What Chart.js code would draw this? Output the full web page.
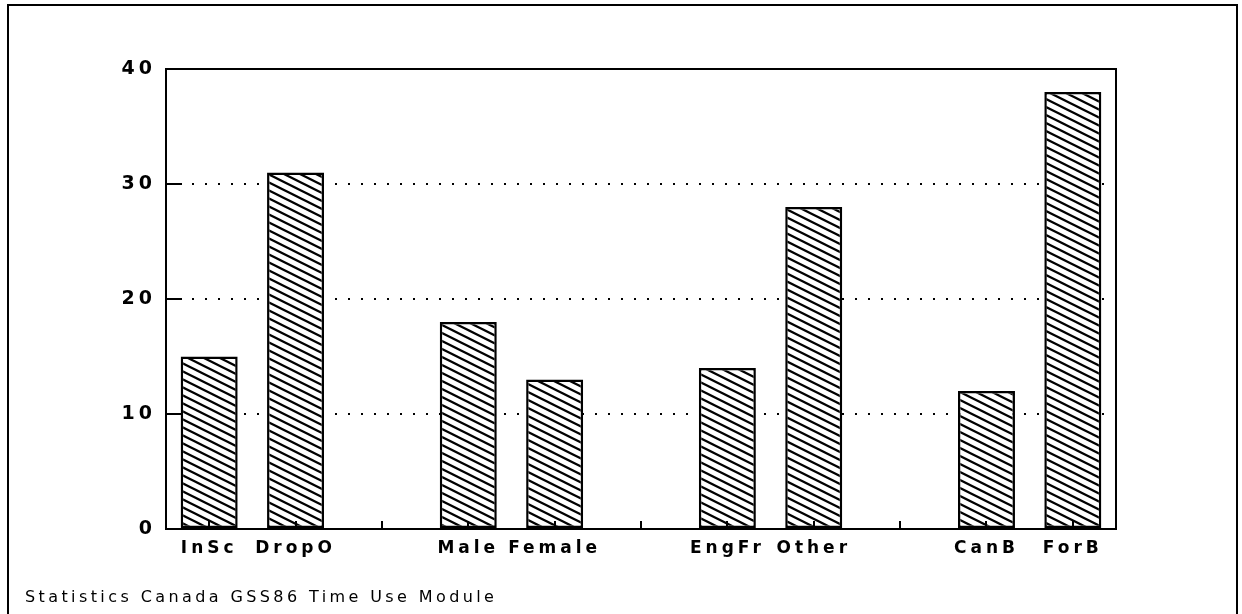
<!DOCTYPE html>
<html>
<head>
<meta charset="utf-8">
<script src="https://cdn.jsdelivr.net/npm/chart.js@4.4.1/dist/chart.umd.min.js"></script>
<style>
  body { margin: 0; background: #fff; }
  #wrap { position: relative; width: 1242px; height: 614px; overflow: hidden; }
  #frame {
    position: absolute; left: 7px; top: 4px; width: 1227px; height: 640px;
    border: 2px solid #000; border-bottom: none;
  }
  #note {
    position: absolute; left: 25px; top: 588px;
    font: 16px "DejaVu Sans", sans-serif; line-height: 18px;
    letter-spacing: 3.4px; color: #000; white-space: nowrap;
  }
  canvas { position: absolute; left: 0; top: 0; }
</style>
</head>
<body>
<div id="wrap">
  <div id="frame"></div>
  <canvas id="gssChart" width="1242" height="614"></canvas>
  <div id="note">Statistics Canada GSS86 Time Use Module</div>
</div>
<script>

// ==========================
// Data
// ==========================

const categories = ["InSc", "DropO", "", "Male", "Female", "", "EngFr", "Other", "", "CanB", "ForB"];

const values = [15, 31, null, 18, 13, null, 14, 28, null, 12, 38];

const yTicks = [0, 10, 20, 30, 40];

const gridLines = [10, 20, 30];

// ==========================
// Hatch pattern
// ==========================

function hatch(){

    const c = document.createElement("canvas");
    c.width = 16;
    c.height = 8;
    const g = c.getContext("2d");

    g.fillStyle = "#fff";
    g.fillRect(0, 0, 16, 8);

    g.strokeStyle = "#000";
    g.lineWidth = 2.3;

    for(let k = -2; k <= 2; k++){
        g.beginPath();
        g.moveTo(-8, k * 8 - 4);
        g.lineTo(24, k * 8 + 12);
        g.stroke();
    }

    return g.createPattern(c, "repeat");
}

// ==========================
// Frame + inward ticks
// ==========================

const framePlugin = {

    id: "framePlugin",

    beforeDraw(chart){
        chart.ctx.letterSpacing = "4px";
    },

    afterDatasetsDraw(chart){

        const {ctx, chartArea: a, scales} = chart;

        ctx.save();
        ctx.letterSpacing = "0px";
        ctx.strokeStyle = "#000";
        ctx.lineWidth = 2;

        // plot box
        ctx.strokeRect(a.left, a.top, a.right - a.left, a.bottom - a.top);

        // ticks on the x axis
        categories.forEach((c, i) => {
            const x = Math.round(scales.x.getPixelForValue(i));
            ctx.beginPath();
            ctx.moveTo(x, a.bottom);
            ctx.lineTo(x, a.bottom - 8);
            ctx.stroke();
        });

        // ticks on the y axis
        yTicks.forEach(v => {
            const y = Math.round(scales.y.getPixelForValue(v));
            ctx.beginPath();
            ctx.moveTo(a.left, y);
            ctx.lineTo(a.left + 16, y);
            ctx.stroke();
        });

        ctx.restore();
    }
};

// ==========================
// Chart
// ==========================

const canvas = document.getElementById("gssChart");

new Chart(canvas, {

    type: "bar",

    data: {

        labels: categories,

        datasets: [{

            data: values,

            backgroundColor: hatch(),

            borderColor: "#000",

            borderWidth: 2.5,

            borderSkipped: false,

            categoryPercentage: 1,

            barPercentage: 0.66

        }]

    },

    options: {

        responsive: false,

        animation: false,

        events: [],

        layout: {
            padding: { left: 0, right: 126, top: 69, bottom: 0 }
        },

        plugins: {
            legend: { display: false },
            tooltip: { enabled: false }
        },

        scales: {

            x: {

                afterFit(s){ s.height = 85; },

                grid: { display: false, drawTicks: false },

                border: { display: false },

                ticks: {
                    color: "#000",
                    padding: 9,
                    autoSkip: false,
                    maxRotation: 0,
                    font: { family: "DejaVu Sans", size: 17, weight: "bold" }
                }

            },

            y: {

                min: 0,

                max: 40,

                afterFit(s){ s.width = 166; },

                afterBuildTicks(s){
                    s.ticks = yTicks.map(v => ({ value: v }));
                },

                grid: {
                    drawTicks: false,
                    lineWidth: 2,
                    color: c => gridLines.includes(c.tick && c.tick.value) ? "#000" : "rgba(0,0,0,0)"
                },

                border: { display: false, dash: [2, 11] },

                ticks: {
                    color: "#000",
                    padding: 10,
                    font: { family: "DejaVu Sans", size: 19, weight: "bold" }
                }

            }

        }

    },

    plugins: [framePlugin]

});

</script>
</body>
</html>
